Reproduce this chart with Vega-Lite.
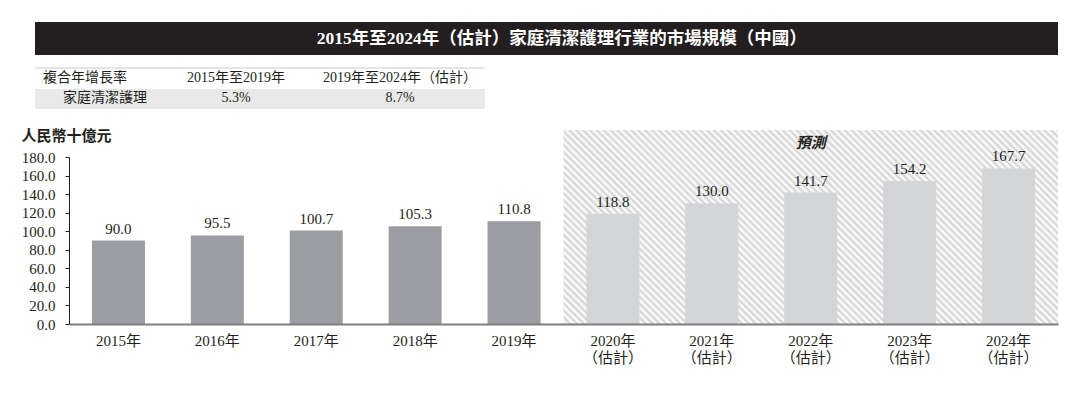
{
  "$schema": "https://vega.github.io/schema/vega-lite/v6.json",
  "padding": {"top": 22, "left": 21, "right": 5, "bottom": 5},
  "background": "white",
  "config": {"view": {"stroke": null}, "font": "Liberation Serif, Noto Sans CJK TC"},
  "spacing": 19,
  "vconcat": [
    {
      "spacing": 12,
      "vconcat": [
        {
          "width": 1023,
          "height": 33,
          "view": {"fill": "#231f20", "stroke": null},
          "data": {"values": [{"t": "2015年至2024年（估計）家庭清潔護理行業的市場規模（中國）"}]},
          "mark": {"type": "text", "color": "white", "fontSize": 17.5, "fontWeight": "bold", "align": "center", "baseline": "middle"},
          "encoding": {
            "text": {"field": "t"},
            "x": {"datum": 0.515, "type": "quantitative", "scale": {"domain": [0, 1]}, "axis": null},
            "y": {"datum": 0.5, "type": "quantitative", "scale": {"domain": [0, 1]}, "axis": null}
          }
        },
        {
          "width": 450,
          "height": 40,
          "data": {"values": [
            {"row": "h", "col": "a", "t": "複合年增長率"},
            {"row": "h", "col": "b", "t": "2015年至2019年"},
            {"row": "h", "col": "c", "t": "2019年至2024年（估計）"},
            {"row": "v", "col": "a", "t": "家庭清潔護理"},
            {"row": "v", "col": "b", "t": "5.3%"},
            {"row": "v", "col": "c", "t": "8.7%"}
          ]},
          "layer": [
            {
              "data": {"values": [{"row": "v"}]},
              "mark": {"type": "rect", "color": "#e9e9e9"},
              "encoding": {
                "y": {"field": "row", "type": "nominal", "scale": {"domain": ["h", "v"], "paddingInner": 0.1, "paddingOuter": 0.05}, "axis": null},
                "x": {"value": 0},
                "x2": {"value": "width"}
              }
            },
            {
              "data": {"values": [{"p": "top"}]},
              "mark": {"type": "rule", "color": "#c8c8c8", "strokeWidth": 1},
              "encoding": {"y": {"value": 0}, "x": {"value": 0}, "x2": {"value": "width"}}
            },
            {
              "data": {"values": [{"p": "bottom"}]},
              "mark": {"type": "rule", "color": "#d0d0d0", "strokeWidth": 1},
              "encoding": {"y": {"value": "height"}, "x": {"value": 0}, "x2": {"value": "width"}}
            },
            {
              "transform": [{"filter": "datum.col != 'a'"}],
              "mark": {"type": "text", "fontSize": 14, "color": "#231f20", "align": "center", "baseline": "middle"},
              "encoding": {
                "x": {"field": "col", "type": "nominal", "scale": {"type": "point", "domain": ["a", "b", "c"], "padding": 0.372, "align": 0.3033}, "axis": null},
                "y": {"field": "row", "type": "nominal"},
                "text": {"field": "t"}
              }
            },
            {
              "transform": [{"filter": "datum.col == 'a' && datum.row == 'v'"}],
              "mark": {"type": "text", "fontSize": 14, "color": "#231f20", "align": "center", "baseline": "middle", "dx": 33},
              "encoding": {
                "x": {"field": "col", "type": "nominal"},
                "y": {"field": "row", "type": "nominal"},
                "text": {"field": "t"}
              }
            },
            {
              "transform": [{"filter": "datum.col == 'a' && datum.row == 'h'"}],
              "mark": {"type": "text", "fontSize": 14, "color": "#231f20", "align": "center", "baseline": "middle", "dx": 13},
              "encoding": {
                "x": {"field": "col", "type": "nominal"},
                "y": {"field": "row", "type": "nominal"},
                "text": {"field": "t"}
              }
            }
          ]
        }
      ]
    },
    {
      "width": 1023,
      "height": 167,
      "data": {"values": [
        {"year": "2015年", "v": 90.0, "phase": "hist"},
        {"year": "2016年", "v": 95.5, "phase": "hist"},
        {"year": "2017年", "v": 100.7, "phase": "hist"},
        {"year": "2018年", "v": 105.3, "phase": "hist"},
        {"year": "2019年", "v": 110.8, "phase": "hist"},
        {"year": "2020年", "v": 118.8, "phase": "fc"},
        {"year": "2021年", "v": 130.0, "phase": "fc"},
        {"year": "2022年", "v": 141.7, "phase": "fc"},
        {"year": "2023年", "v": 154.2, "phase": "fc"},
        {"year": "2024年", "v": 167.7, "phase": "fc"}
      ]},
      "layer": [
        {
          "data": {"values": [{"year": "2020年", "year_end": "2024年"}]},
          "mark": {"type": "rect", "fill": {"gradient": "linear", "x1": 0, "y1": 1, "x2": 1.2066, "y2": 0.527, "stops": [
{"offset":0,"color":"#d3d3d3"},{"offset":0.005,"color":"#fff"},{"offset":0.01,"color":"#d3d3d3"},{"offset":0.015,"color":"#fff"},{"offset":0.02,"color":"#d3d3d3"},{"offset":0.025,"color":"#fff"},{"offset":0.03,"color":"#d3d3d3"},{"offset":0.035,"color":"#fff"},{"offset":0.04,"color":"#d3d3d3"},{"offset":0.045,"color":"#fff"},{"offset":0.05,"color":"#d3d3d3"},{"offset":0.055,"color":"#fff"},{"offset":0.06,"color":"#d3d3d3"},{"offset":0.065,"color":"#fff"},{"offset":0.07,"color":"#d3d3d3"},{"offset":0.075,"color":"#fff"},{"offset":0.08,"color":"#d3d3d3"},{"offset":0.085,"color":"#fff"},{"offset":0.09,"color":"#d3d3d3"},{"offset":0.095,"color":"#fff"},
{"offset":0.1,"color":"#d3d3d3"},{"offset":0.105,"color":"#fff"},{"offset":0.11,"color":"#d3d3d3"},{"offset":0.115,"color":"#fff"},{"offset":0.12,"color":"#d3d3d3"},{"offset":0.125,"color":"#fff"},{"offset":0.13,"color":"#d3d3d3"},{"offset":0.135,"color":"#fff"},{"offset":0.14,"color":"#d3d3d3"},{"offset":0.145,"color":"#fff"},{"offset":0.15,"color":"#d3d3d3"},{"offset":0.155,"color":"#fff"},{"offset":0.16,"color":"#d3d3d3"},{"offset":0.165,"color":"#fff"},{"offset":0.17,"color":"#d3d3d3"},{"offset":0.175,"color":"#fff"},{"offset":0.18,"color":"#d3d3d3"},{"offset":0.185,"color":"#fff"},{"offset":0.19,"color":"#d3d3d3"},{"offset":0.195,"color":"#fff"},
{"offset":0.2,"color":"#d3d3d3"},{"offset":0.205,"color":"#fff"},{"offset":0.21,"color":"#d3d3d3"},{"offset":0.215,"color":"#fff"},{"offset":0.22,"color":"#d3d3d3"},{"offset":0.225,"color":"#fff"},{"offset":0.23,"color":"#d3d3d3"},{"offset":0.235,"color":"#fff"},{"offset":0.24,"color":"#d3d3d3"},{"offset":0.245,"color":"#fff"},{"offset":0.25,"color":"#d3d3d3"},{"offset":0.255,"color":"#fff"},{"offset":0.26,"color":"#d3d3d3"},{"offset":0.265,"color":"#fff"},{"offset":0.27,"color":"#d3d3d3"},{"offset":0.275,"color":"#fff"},{"offset":0.28,"color":"#d3d3d3"},{"offset":0.285,"color":"#fff"},{"offset":0.29,"color":"#d3d3d3"},{"offset":0.295,"color":"#fff"},
{"offset":0.3,"color":"#d3d3d3"},{"offset":0.305,"color":"#fff"},{"offset":0.31,"color":"#d3d3d3"},{"offset":0.315,"color":"#fff"},{"offset":0.32,"color":"#d3d3d3"},{"offset":0.325,"color":"#fff"},{"offset":0.33,"color":"#d3d3d3"},{"offset":0.335,"color":"#fff"},{"offset":0.34,"color":"#d3d3d3"},{"offset":0.345,"color":"#fff"},{"offset":0.35,"color":"#d3d3d3"},{"offset":0.355,"color":"#fff"},{"offset":0.36,"color":"#d3d3d3"},{"offset":0.365,"color":"#fff"},{"offset":0.37,"color":"#d3d3d3"},{"offset":0.375,"color":"#fff"},{"offset":0.38,"color":"#d3d3d3"},{"offset":0.385,"color":"#fff"},{"offset":0.39,"color":"#d3d3d3"},{"offset":0.395,"color":"#fff"},
{"offset":0.4,"color":"#d3d3d3"},{"offset":0.405,"color":"#fff"},{"offset":0.41,"color":"#d3d3d3"},{"offset":0.415,"color":"#fff"},{"offset":0.42,"color":"#d3d3d3"},{"offset":0.425,"color":"#fff"},{"offset":0.43,"color":"#d3d3d3"},{"offset":0.435,"color":"#fff"},{"offset":0.44,"color":"#d3d3d3"},{"offset":0.445,"color":"#fff"},{"offset":0.45,"color":"#d3d3d3"},{"offset":0.455,"color":"#fff"},{"offset":0.46,"color":"#d3d3d3"},{"offset":0.465,"color":"#fff"},{"offset":0.47,"color":"#d3d3d3"},{"offset":0.475,"color":"#fff"},{"offset":0.48,"color":"#d3d3d3"},{"offset":0.485,"color":"#fff"},{"offset":0.49,"color":"#d3d3d3"},{"offset":0.495,"color":"#fff"},
{"offset":0.5,"color":"#d3d3d3"},{"offset":0.505,"color":"#fff"},{"offset":0.51,"color":"#d3d3d3"},{"offset":0.515,"color":"#fff"},{"offset":0.52,"color":"#d3d3d3"},{"offset":0.525,"color":"#fff"},{"offset":0.53,"color":"#d3d3d3"},{"offset":0.535,"color":"#fff"},{"offset":0.54,"color":"#d3d3d3"},{"offset":0.545,"color":"#fff"},{"offset":0.55,"color":"#d3d3d3"},{"offset":0.555,"color":"#fff"},{"offset":0.56,"color":"#d3d3d3"},{"offset":0.565,"color":"#fff"},{"offset":0.57,"color":"#d3d3d3"},{"offset":0.575,"color":"#fff"},{"offset":0.58,"color":"#d3d3d3"},{"offset":0.585,"color":"#fff"},{"offset":0.59,"color":"#d3d3d3"},{"offset":0.595,"color":"#fff"},
{"offset":0.6,"color":"#d3d3d3"},{"offset":0.605,"color":"#fff"},{"offset":0.61,"color":"#d3d3d3"},{"offset":0.615,"color":"#fff"},{"offset":0.62,"color":"#d3d3d3"},{"offset":0.625,"color":"#fff"},{"offset":0.63,"color":"#d3d3d3"},{"offset":0.635,"color":"#fff"},{"offset":0.64,"color":"#d3d3d3"},{"offset":0.645,"color":"#fff"},{"offset":0.65,"color":"#d3d3d3"},{"offset":0.655,"color":"#fff"},{"offset":0.66,"color":"#d3d3d3"},{"offset":0.665,"color":"#fff"},{"offset":0.67,"color":"#d3d3d3"},{"offset":0.675,"color":"#fff"},{"offset":0.68,"color":"#d3d3d3"},{"offset":0.685,"color":"#fff"},{"offset":0.69,"color":"#d3d3d3"},{"offset":0.695,"color":"#fff"},
{"offset":0.7,"color":"#d3d3d3"},{"offset":0.705,"color":"#fff"},{"offset":0.71,"color":"#d3d3d3"},{"offset":0.715,"color":"#fff"},{"offset":0.72,"color":"#d3d3d3"},{"offset":0.725,"color":"#fff"},{"offset":0.73,"color":"#d3d3d3"},{"offset":0.735,"color":"#fff"},{"offset":0.74,"color":"#d3d3d3"},{"offset":0.745,"color":"#fff"},{"offset":0.75,"color":"#d3d3d3"},{"offset":0.755,"color":"#fff"},{"offset":0.76,"color":"#d3d3d3"},{"offset":0.765,"color":"#fff"},{"offset":0.77,"color":"#d3d3d3"},{"offset":0.775,"color":"#fff"},{"offset":0.78,"color":"#d3d3d3"},{"offset":0.785,"color":"#fff"},{"offset":0.79,"color":"#d3d3d3"},{"offset":0.795,"color":"#fff"},
{"offset":0.8,"color":"#d3d3d3"},{"offset":0.805,"color":"#fff"},{"offset":0.81,"color":"#d3d3d3"},{"offset":0.815,"color":"#fff"},{"offset":0.82,"color":"#d3d3d3"},{"offset":0.825,"color":"#fff"},{"offset":0.83,"color":"#d3d3d3"},{"offset":0.835,"color":"#fff"},{"offset":0.84,"color":"#d3d3d3"},{"offset":0.845,"color":"#fff"},{"offset":0.85,"color":"#d3d3d3"},{"offset":0.855,"color":"#fff"},{"offset":0.86,"color":"#d3d3d3"},{"offset":0.865,"color":"#fff"},{"offset":0.87,"color":"#d3d3d3"},{"offset":0.875,"color":"#fff"},{"offset":0.88,"color":"#d3d3d3"},{"offset":0.885,"color":"#fff"},{"offset":0.89,"color":"#d3d3d3"},{"offset":0.895,"color":"#fff"},
{"offset":0.9,"color":"#d3d3d3"},{"offset":0.905,"color":"#fff"},{"offset":0.91,"color":"#d3d3d3"},{"offset":0.915,"color":"#fff"},{"offset":0.92,"color":"#d3d3d3"},{"offset":0.925,"color":"#fff"},{"offset":0.93,"color":"#d3d3d3"},{"offset":0.935,"color":"#fff"},{"offset":0.94,"color":"#d3d3d3"},{"offset":0.945,"color":"#fff"},{"offset":0.95,"color":"#d3d3d3"},{"offset":0.955,"color":"#fff"},{"offset":0.96,"color":"#d3d3d3"},{"offset":0.965,"color":"#fff"},{"offset":0.97,"color":"#d3d3d3"},{"offset":0.975,"color":"#fff"},{"offset":0.98,"color":"#d3d3d3"},{"offset":0.985,"color":"#fff"},{"offset":0.99,"color":"#d3d3d3"},{"offset":0.995,"color":"#fff"},
{"offset":1,"color":"#d3d3d3"}
          ]}},
          "encoding": {
            "x": {"field": "year", "type": "nominal", "bandPosition": 0},
            "x2": {"field": "year_end", "bandPosition": 1},
            "y": {
              "datum": 0, "type": "quantitative",
              "scale": {"domain": [0, 180], "nice": false, "zero": true},
              "axis": {"title": "人民幣十億元", "titleAngle": 0, "titleAlign": "left", "titleBaseline": "middle", "titleX": -48, "titleY": -22, "titleFontSize": 15, "titleFontWeight": "bold", "titleColor": "#231f20",
                "values": [0, 20, 40, 60, 80, 100, 120, 140, 160, 180], "tickCount": 10, "format": ".1f", "offset": -34, "tickSize": 4, "tickColor": "#231f20", "domainColor": "#231f20", "labelFontSize": 15, "labelColor": "#231f20", "labelPadding": 10, "labelOverlap": false, "grid": false, "zindex": 1}
            },
            "y2": {"datum": 209}
          }
        },
        {
          "mark": {"type": "bar", "width": {"band": 0.536}},
          "encoding": {
            "x": {
              "field": "year", "type": "nominal",
              "scale": {"type": "band", "domain": ["2015年","2016年","2017年","2018年","2019年","2020年","2021年","2022年","2023年","2024年"], "paddingInner": 0, "paddingOuter": 0, "range": [34, 1023]},
              "axis": {"title": null, "labelAngle": 0, "ticks": false, "bandPosition": 0.5, "labelAlign": "center", "labelBaseline": "top", "domainColor": "#7f7f7f", "domainWidth": 2, "labelFontSize": 15, "labelColor": "#231f20", "labelPadding": 9, "labelLineHeight": 17, "labelOverlap": false, "zindex": 1,
                "labelExpr": "toNumber(slice(datum.value, 0, 4)) >= 2020 ? [datum.value, '（估計）'] : datum.value"}
            },
            "y": {
              "field": "v", "type": "quantitative",
              "axis": {"title": "人民幣十億元", "titleAngle": 0, "titleAlign": "left", "titleBaseline": "middle", "titleX": -48, "titleY": -22, "titleFontSize": 15, "titleFontWeight": "bold", "titleColor": "#231f20",
                "values": [0, 20, 40, 60, 80, 100, 120, 140, 160, 180], "tickCount": 10, "format": ".1f", "offset": -34, "tickSize": 4, "tickColor": "#231f20", "domainColor": "#231f20", "labelFontSize": 15, "labelColor": "#231f20", "labelPadding": 10, "labelOverlap": false, "grid": false, "zindex": 1}
            },
            "color": {"field": "phase", "type": "nominal", "scale": {"domain": ["hist", "fc"], "range": ["#9b9da2", "#d4d5d8"]}, "legend": null}
          }
        },
        {
          "mark": {"type": "text", "baseline": "alphabetic", "dy": -7, "fontSize": 15, "color": "#231f20"},
          "encoding": {
            "x": {"field": "year", "type": "nominal"},
            "y": {"field": "v", "type": "quantitative"},
            "text": {"field": "v", "type": "quantitative", "format": ".1f"}
          }
        },
        {
          "data": {"values": [{"year": "2022年", "t": "預測"}]},
          "mark": {"type": "text", "fontSize": 15, "fontStyle": "italic", "fontWeight": "bold", "color": "#231f20", "baseline": "middle"},
          "encoding": {
            "x": {"field": "year", "type": "nominal"},
            "y": {"datum": 195, "type": "quantitative"},
            "text": {"field": "t"}
          }
        }
      ]
    }
  ]
}
